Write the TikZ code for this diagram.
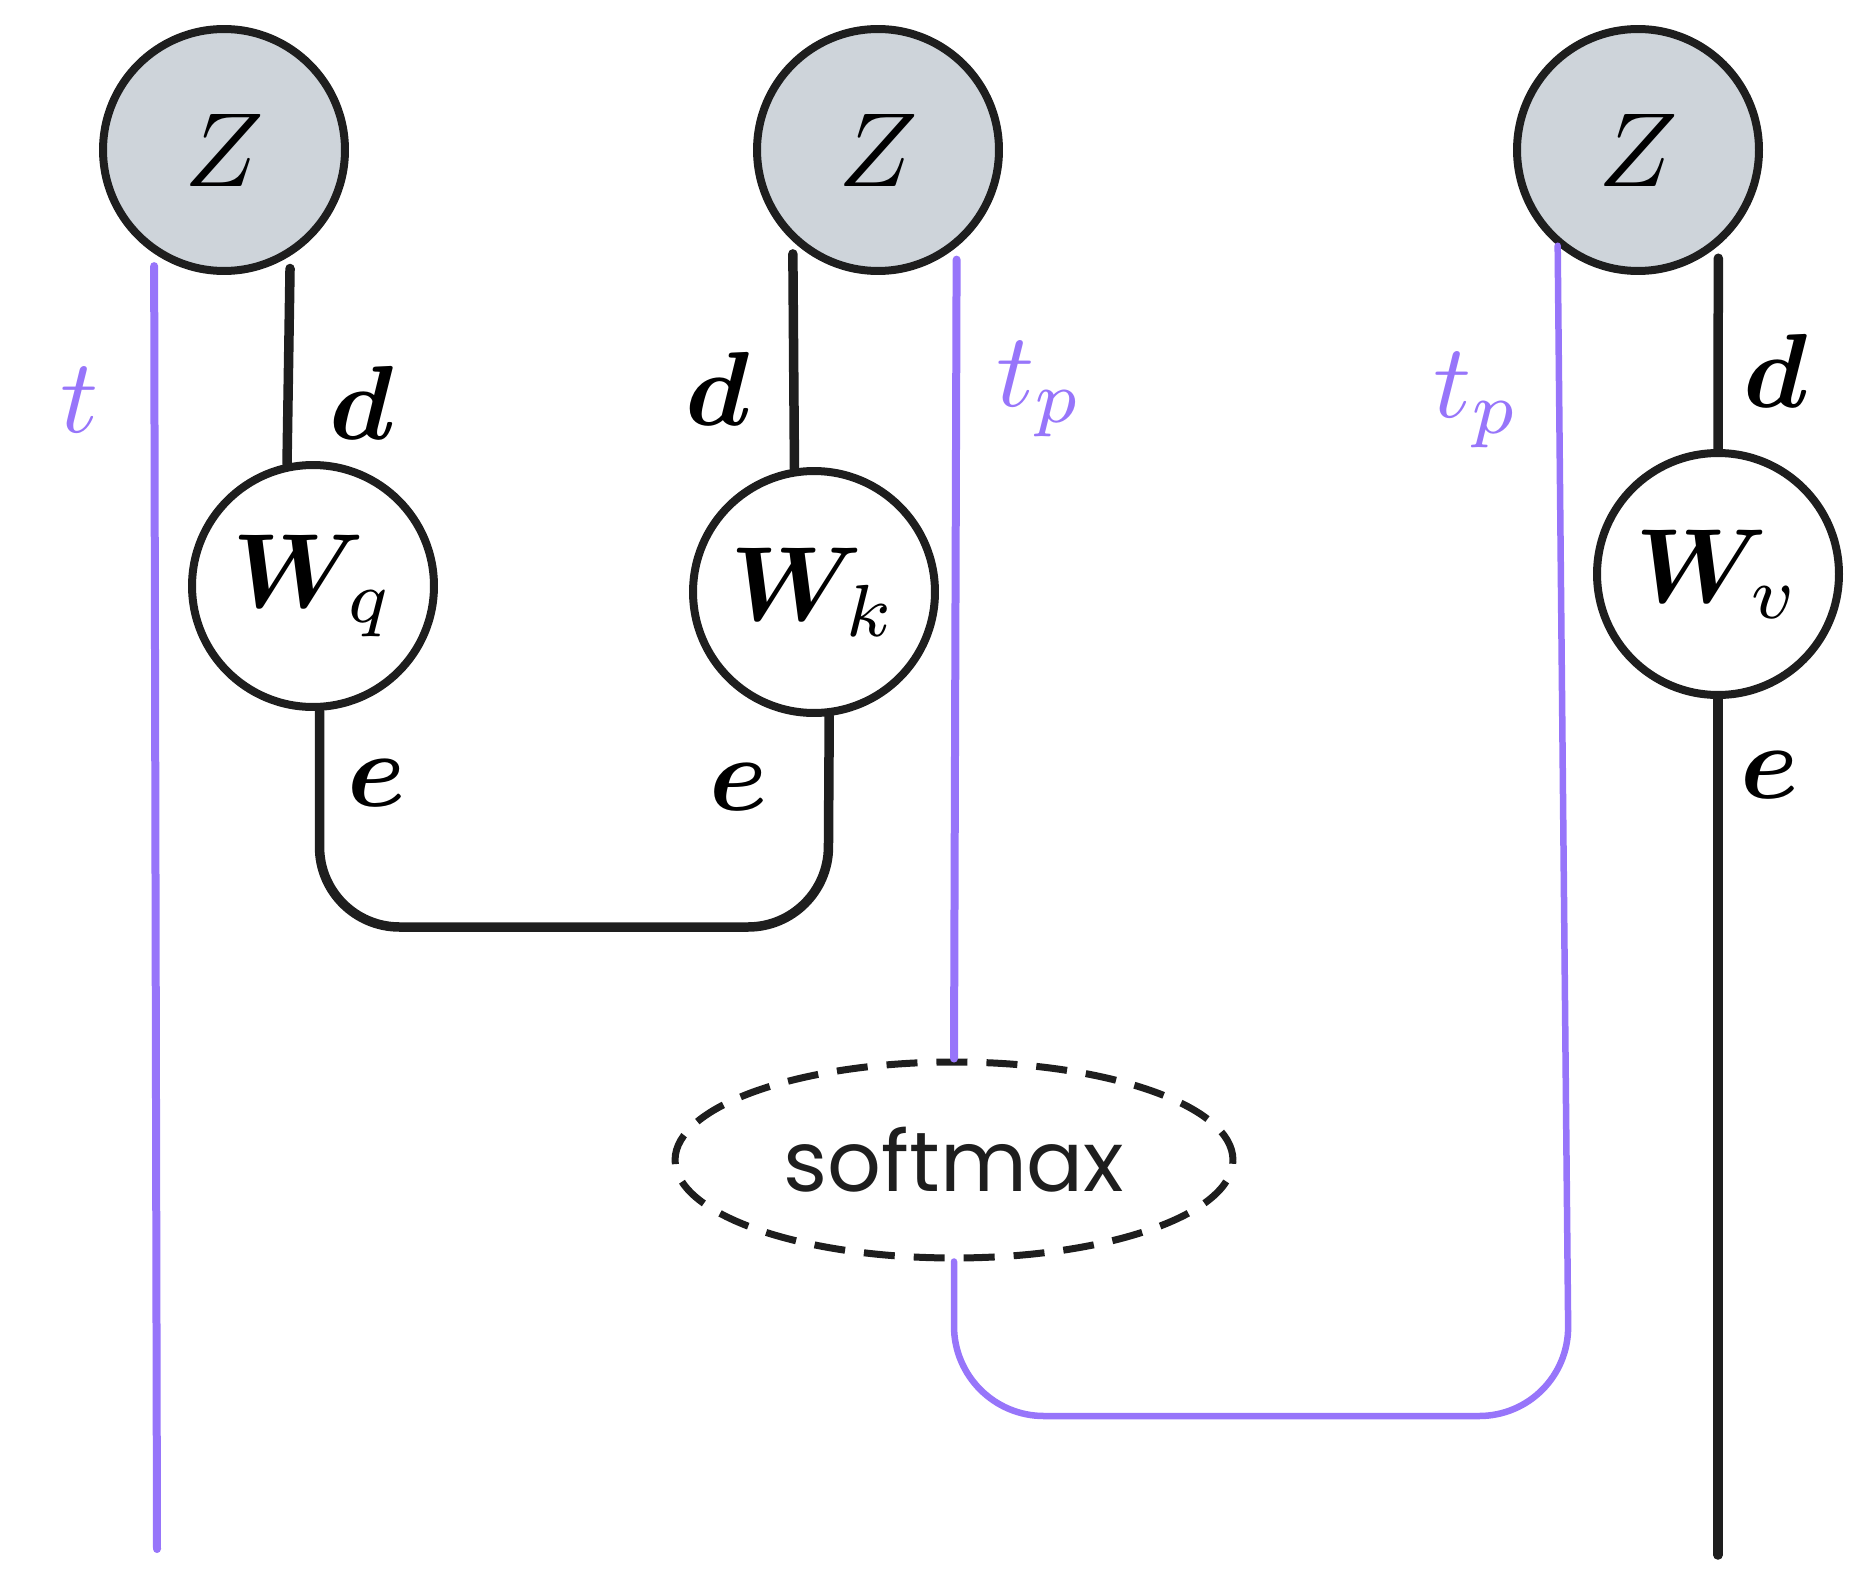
\documentclass[tikz,border=0pt]{standalone}
\usepackage{amsmath,bm}
\usepackage{graphicx}
\usepackage{fontspec}
\newfontfamily\handfont{Poppins}
\usetikzlibrary{shapes.geometric}
\definecolor{ink}{HTML}{1E1E1E}
\definecolor{vio}{HTML}{9775FA}
\definecolor{zgrey}{HTML}{CED4DA}
\newcommand\bigtx[1]{\scalebox{6}{#1}}
\tikzset{
  zbox/.style={circle, draw=ink, fill=zgrey, line width=0.16cm, minimum size=4.84cm, inner sep=0pt},
  wbox/.style={circle, draw=ink, fill=white, line width=0.16cm, minimum size=4.84cm, inner sep=0pt},
  blk/.style={draw=ink, line width=0.19cm, line cap=round},
  pur/.style={draw=vio, line width=0.16cm, line cap=round},
  gap/.style={shorten <=0.25cm},
  lab/.style={text=black, inner sep=0pt},
  plab/.style={text=vio, inner sep=0pt},
}
\begin{document}
\begin{tikzpicture}[x=0.02cm, y=-0.02cm]
\useasboundingbox (0,0) rectangle (1875,1588);
% nodes
\node[zbox] (Z1) at (224,150) {\bigtx{$Z$}};
\node[zbox] (Z2) at (878,150) {\bigtx{$Z$}};
\node[zbox] (Z3) at (1638,150) {\bigtx{$Z$}};
\node[wbox] (Wq) at (313,586) {\bigtx{$\bm{W}_{q}$}};
\node[wbox] (Wk) at (814,592) {\bigtx{$\bm{W}_{k}$}};
\node[wbox] (Wv) at (1718,574) {\bigtx{$\bm{W}_{v}$}};
\node[ellipse, draw=ink, line width=0.14cm, dash pattern=on 0.62cm off 0.38cm,
      minimum width=11.16cm, minimum height=3.92cm, inner sep=0pt,
      font=\handfont\fontsize{48}{48}\selectfont, text=ink] (soft) at (954,1160) {softmax};
\coordinate (tend) at (157,1549);
\coordinate (vend) at (1718,1555);
\coordinate (qkcorner) at (828,927);
\coordinate (spcorner) at (1569,1416);
% connectors
\draw[pur, gap] (Z1.-124) -- (tend);
\draw[blk, gap] (Z1.-58) -- (Wq.102);
\draw[blk, gap=0.1cm] (Z2.-133) -- (Wk.99);
\draw[pur, gap] (Z2.-51) -- (soft.north);
\draw[blk, gap] (Z3.-50) -- (Wv.north);
\draw[blk] (Wv.south) -- (vend);
\draw[blk, rounded corners=1.6cm] (Wq.-87) |- (qkcorner) -- (Wk.-83);
\draw[pur, line width=0.13cm, rounded corners=1.8cm] (soft.south) |- (spcorner) -- (Z3.-130);
% labels
\node[plab] (lt) at (80,400) {\bigtx{$t$}};
\node[lab] (ld1) at (362,403) {\bigtx{$\bm{d}$}};
\node[lab] (ld2) at (718,389) {\bigtx{$\bm{d}$}};
\node[plab] (ltp1) at (1040,389) {\bigtx{$t_p$}};
\node[plab] (ltp2) at (1477,400) {\bigtx{$t_p$}};
\node[lab] (ld3) at (1776,371) {\bigtx{$\bm{d}$}};
\node[lab] (le1) at (377,783) {\bigtx{$\bm{e}$}};
\node[lab] (le2) at (739,787) {\bigtx{$\bm{e}$}};
\node[lab] (le3) at (1770,775) {\bigtx{$\bm{e}$}};
\end{tikzpicture}
\end{document}
